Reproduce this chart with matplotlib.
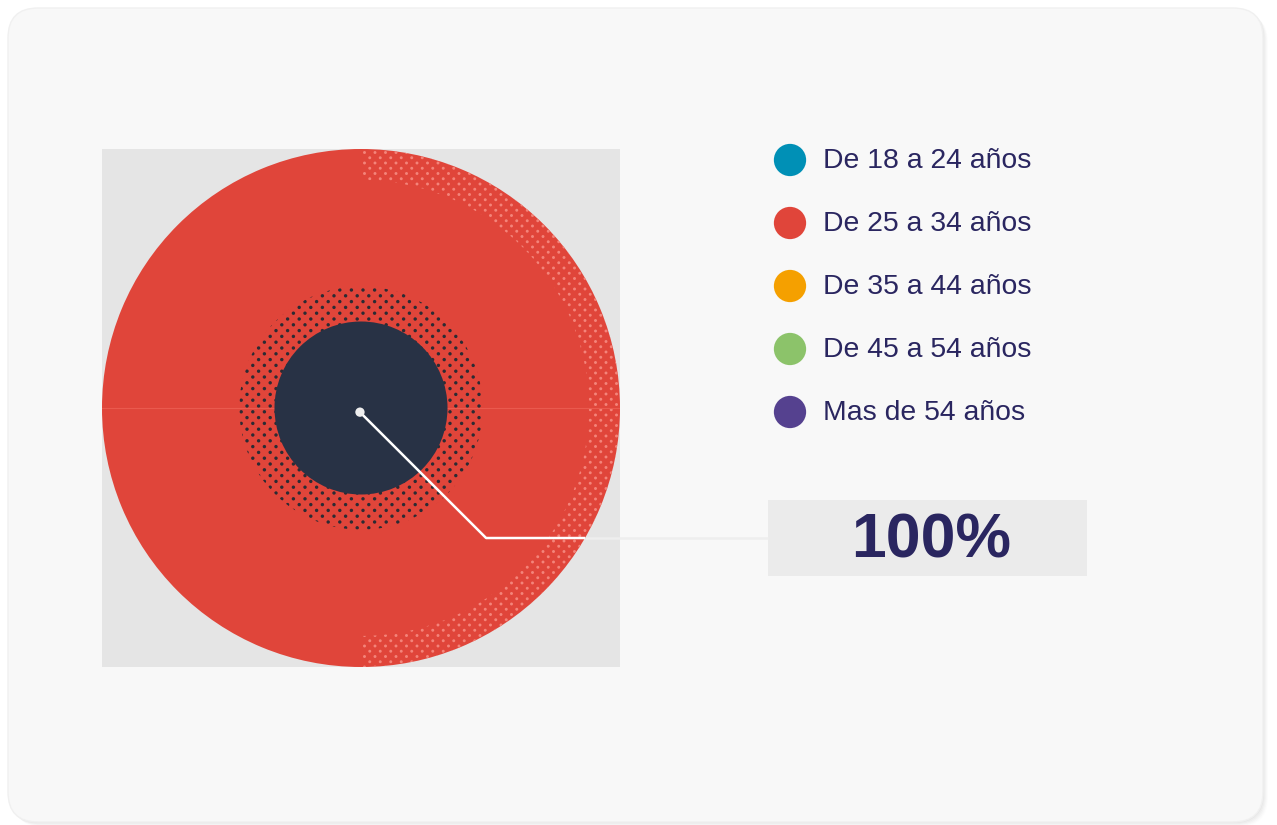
import numpy as np
import matplotlib.pyplot as plt
from matplotlib.patches import FancyBboxPatch, Rectangle, Wedge, Circle

# distribución por edades
categorias = ["De 18 a 24 años", "De 25 a 34 años", "De 35 a 44 años",
              "De 45 a 54 años", "Mas de 54 años"]
valores = [0, 100, 0, 0, 0]
colores = ["#0090b6", "#e0453a", "#f5a000", "#8cc36a", "#55418f"]
etiqueta = "100%"

texto_color = "#2a2660"
plt.rcParams["font.family"] = ["Liberation Sans", "DejaVu Sans"]

W, H = 1277, 825
fig = plt.figure(figsize=(W / 100, H / 100), dpi=100)
fig.patch.set_facecolor("white")

# capa de fondo en pixeles
bg = fig.add_axes([0, 0, 1, 1], zorder=0)
bg.set_xlim(0, W)
bg.set_ylim(H, 0)
bg.axis("off")

# sombra y tarjeta
for i, a in enumerate([0.06, 0.05, 0.04, 0.03, 0.02]):
    bg.add_patch(FancyBboxPatch((8 + 1 + i, 8 + 1 + i), 1255, 814,
                                boxstyle="round,pad=0,rounding_size=30",
                                fc="#8a8a8a", ec="none", alpha=a))
bg.add_patch(FancyBboxPatch((8, 8), 1255, 814,
                            boxstyle="round,pad=0,rounding_size=30",
                            fc="#f8f8f8", ec="#f0f0f0", lw=1))

# leyenda
for i, (cat, col) in enumerate(zip(categorias, colores)):
    y = 160 + i * 63
    bg.scatter([790], [y], s=540, color=col, edgecolors="none")
    bg.text(823, y + 1, cat, fontsize=20.4, color=texto_color,
            va="center", ha="left")

# caja del porcentaje
bg.add_patch(Rectangle((768, 500), 319, 76, fc="#ebebeb", ec="none"))
bg.text(931, 541, etiqueta, fontsize=45, fontweight="bold",
        color=texto_color, ha="center", va="center")

# grafico circular
ax = fig.add_axes([102 / W, (H - 667) / H, 518 / W, 518 / H], zorder=1)
ax.pie(valores, colors=colores, radius=1, startangle=180,
       counterclock=False, wedgeprops=dict(linewidth=0))
ax.set_frame_on(True)
ax.set_facecolor("#e5e5e5")
ax.set_xlim(-1, 1)
ax.set_ylim(-1, 1)
ax.set_aspect("auto")
ax.set_xticks([])
ax.set_yticks([])
for s in ax.spines.values():
    s.set_visible(False)


def trama(dx, dy):
    filas = np.arange(-1, 1 + dy, dy)
    pts = []
    for k, yy in enumerate(filas):
        off = dx / 2 if k % 2 else 0
        xs = np.arange(-1 + off, 1 + dx, dx)
        pts.append(np.column_stack([xs, np.full_like(xs, yy)]))
    return np.vstack(pts)


# banda punteada exterior (mitad derecha)
anillo_ext = Wedge((0, 0), 1.0, -90, 90, width=0.12, transform=ax.transData,
                   fc="none", ec="none")
ax.add_patch(anillo_ext)
p = trama(10.5 / 259, 5.25 / 259)
sc = ax.scatter(p[:, 0], p[:, 1], s=4.5, color="#f4847a", edgecolors="none",
                zorder=3)
sc.set_clip_path(anillo_ext)

# anillo punteado interior
anillo_int = Wedge((0, 0), 0.47, 0, 360, width=0.14, transform=ax.transData,
                   fc="none", ec="none")
ax.add_patch(anillo_int)
p = trama(11.6 / 259, 5.8 / 259)
sc = ax.scatter(p[:, 0], p[:, 1], s=6, color="#2b2b33", edgecolors="none",
                zorder=3)
sc.set_clip_path(anillo_int)

# costura del sector
ax.plot([-1, 1], [0, 0], color="#ea5a4e", lw=0.8, zorder=4)

# centro oscuro
ax.add_patch(Circle((0, 0), 0.334, fc="#283245", ec="none", zorder=5))

# linea guia
cx, cy = -0.004, -0.016
codo = (0.483, -0.502)
ax.plot([cx, codo[0], 0.865], [cy, codo[1], codo[1]], color="white",
        lw=1.8, zorder=6, solid_capstyle="butt")
ax.plot([0.865, (768 - 361) / 259], [codo[1], codo[1]], color="#eeeeee",
        lw=1.8, zorder=6, clip_on=False, solid_capstyle="butt")
ax.scatter([cx], [cy], s=45, color="#eeeeee", edgecolors="none", zorder=7)

fig.savefig("out.png", dpi=100, facecolor=fig.get_facecolor())
